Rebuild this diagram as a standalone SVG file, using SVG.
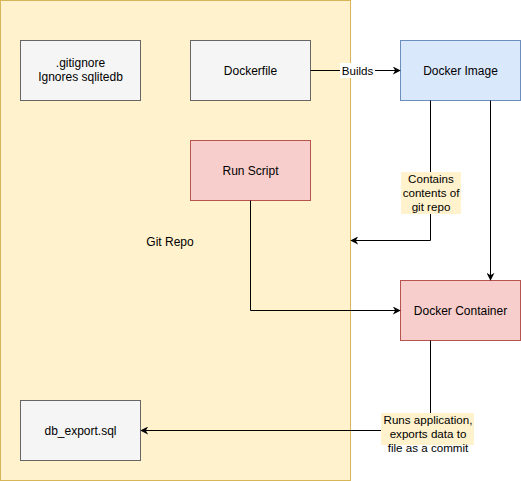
<svg xmlns="http://www.w3.org/2000/svg" width="521" height="481" viewBox="0 0 521 481">
<defs>
<marker id="arr" viewBox="0 0 10 10" refX="9" refY="5" markerWidth="8" markerHeight="8" markerUnits="userSpaceOnUse" orient="auto">
<path d="M0,0 L10,5 L0,10 L3,5 Z" fill="#000"/>
</marker>
</defs>
<style>
text{font-family:"Liberation Sans",Arial,Helvetica,sans-serif;font-size:12px;fill:#000;text-anchor:middle}
.lbl{font-size:11.6px}
.grey{fill:#f5f5f5;stroke:#666666}
.red{fill:#f8cecc;stroke:#b85450}
.blue{fill:#dae8fc;stroke:#6c8ebf}
.edge{fill:none;stroke:#000;stroke-width:1;marker-end:url(#arr)}
</style>
<rect width="521" height="481" fill="#fff"/>
<g id="git-repo">
<rect x="0.5" y="0.5" width="350" height="480" fill="#fff2cc" stroke="#d6b656"/>
<text x="170" y="246">Git Repo</text>
</g>
<g id="gitignore">
<rect class="grey" x="20.5" y="40.5" width="120" height="60"/>
<text x="80.5" y="67">.gitignore</text>
<text x="80.5" y="81">Ignores sqlitedb</text>
</g>
<g id="dockerfile">
<rect class="grey" x="190.5" y="40.5" width="120" height="60"/>
<text x="250.5" y="75">Dockerfile</text>
</g>
<g id="docker-image">
<rect class="blue" x="400.5" y="40.5" width="120" height="60"/>
<text x="460.5" y="75">Docker Image</text>
</g>
<g id="run-script">
<rect class="red" x="190.5" y="140.5" width="120" height="60"/>
<text x="250.5" y="175">Run Script</text>
</g>
<g id="docker-container">
<rect class="red" x="400.5" y="280.5" width="120" height="60"/>
<text x="460.5" y="315">Docker Container</text>
</g>
<g id="db-export">
<rect class="grey" x="20.5" y="400.5" width="120" height="60"/>
<text x="80.5" y="435">db_export.sql</text>
</g>
<g id="connectors">
<path class="edge" d="M310.5,70.5 L400,70.5"/>
<rect x="340" y="63" width="35" height="15" fill="#fff"/>
<text class="lbl" x="357.5" y="75">Builds</text>
<path class="edge" d="M430.5,100.5 L430.5,240.5 L351,240.5"/>
<rect x="401" y="172" width="60" height="42" fill="#fff2cc"/>
<text class="lbl" x="431" y="183">Contains</text>
<text class="lbl" x="431" y="197">contents of</text>
<text class="lbl" x="431" y="211">git repo</text>
<path class="edge" d="M430.5,340.5 L430.5,430.5 L141,430.5"/>
<rect x="381" y="413" width="93" height="32" fill="#fff2cc"/>
<text class="lbl" x="428" y="424">Runs application,</text>
<text class="lbl" x="428" y="438">exports data to</text>
<text class="lbl" x="428" y="452">file as a commit</text>
<path class="edge" d="M490.5,100.5 L490.5,280"/>
<path class="edge" d="M250.5,200.5 L250.5,310.5 L400,310.5"/>
</g>
</svg>
